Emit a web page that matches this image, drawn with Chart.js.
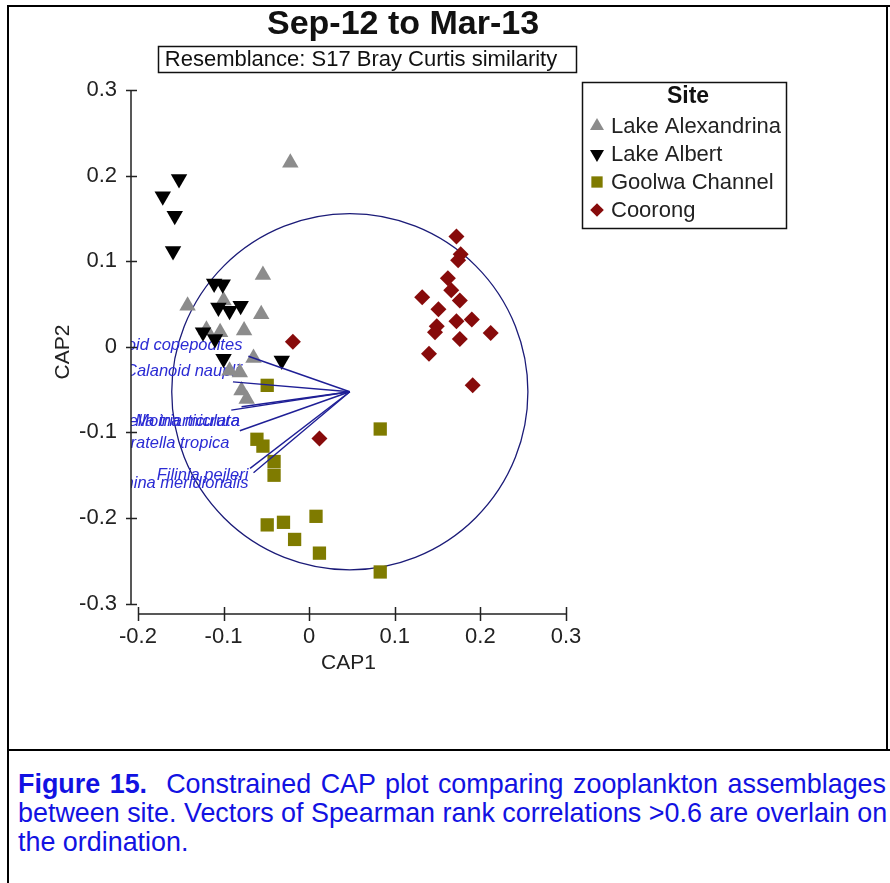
<!DOCTYPE html>
<html lang="en">
<head>
  <meta charset="UTF-8">
  <title>Sep-12 to Mar-13 CAP plot</title>
  <script src="https://cdn.jsdelivr.net/npm/chart.js"></script>
  <style>
    body { margin: 0; background: #fff; }
    #page { position: relative; width: 890px; height: 883px; overflow: hidden; font-family: "Liberation Sans", Arial, sans-serif; }
    #myChart { position: absolute; left: 0; top: 0; }
    .rule { position: absolute; background: #000; }
    #caption { position: absolute; left: 18px; top: 770px; width: 868px; font-size: 26.9px; line-height: 29px; color: #1212e2; }
    #caption div { white-space: nowrap; }
    #caption .full { text-align: justify; text-align-last: justify; }
  </style>
</head>

<body>
  <div id="page">
    <canvas id="myChart" width="890" height="750"></canvas>
    <div class="rule" style="left:7px;top:5px;width:883px;height:2px"></div>
    <div class="rule" style="left:7px;top:5px;width:2px;height:878px"></div>
    <div class="rule" style="left:886px;top:5px;width:2px;height:746px"></div>
    <div class="rule" style="left:7px;top:749px;width:883px;height:2px"></div>
    <div id="caption">
      <div class="full"><b>Figure 15.</b>&nbsp; Constrained CAP plot comparing zooplankton assemblages</div>
      <div class="full">between site. Vectors of Spearman rank correlations &gt;0.6 are overlain on</div>
      <div>the ordination.</div>
    </div>
  </div>

  <script>
    // Sites
    const siteNames = ['Lake Alexandrina', 'Lake Albert', 'Goolwa Channel', 'Coorong'];

    const alexandrinaCap1 = [-0.022, -0.054, -0.142, -0.100, -0.056, -0.120, -0.104, -0.076, -0.065, -0.081, -0.093, -0.079, -0.073];
    const alexandrinaCap2 = [0.215, 0.084, 0.048, 0.054, 0.038, 0.020, 0.017, 0.019, -0.013, -0.030, -0.028, -0.051, -0.061];

    const albertCap1 = [-0.152, -0.171, -0.157, -0.159, -0.111, -0.101, -0.106, -0.093, -0.080, -0.124, -0.110, -0.100, -0.032];
    const albertCap2 = [0.196, 0.176, 0.153, 0.112, 0.074, 0.073, 0.046, 0.042, 0.048, 0.017, 0.009, -0.014, -0.016];

    const goolwaCap1 = [-0.049, 0.083, -0.061, -0.054, -0.041, -0.041, -0.049, -0.030, 0.008, -0.017, 0.012, 0.083];
    const goolwaCap2 = [-0.045, -0.096, -0.108, -0.116, -0.134, -0.150, -0.208, -0.205, -0.198, -0.225, -0.241, -0.263];

    const coorongCap1 = [0.172, 0.177, 0.174, 0.162, 0.166, 0.176, 0.132, 0.151, 0.149, 0.147, 0.172, 0.190, 0.212, 0.176, 0.140, 0.191, -0.019, 0.012];
    const coorongCap2 = [0.129, 0.108, 0.101, 0.080, 0.066, 0.054, 0.058, 0.044, 0.024, 0.017, 0.030, 0.032, 0.016, 0.009, -0.008, -0.045, 0.006, -0.107];

    // Spearman vectors (origin = centre of correlation circle)
    const vectorNames = ['Calanoid copepodites', 'Calanoid nauplii', 'Boeckella triarticulata', 'Moina micrura', 'Keratella tropica', 'Filinia pejleri', 'Bosmina meridionalis'];
    const vectorCap1 = [-0.071, -0.089, -0.091, -0.079, -0.081, -0.069, -0.065];
    const vectorCap2 = [-0.011, -0.041, -0.074, -0.070, -0.098, -0.142, -0.147];
    const labelCap1 = [-0.078, -0.078, -0.081, -0.081, -0.093, -0.071, -0.071];
    const labelCap2 = [0.002, -0.029, -0.0875, -0.0875, -0.113, -0.150, -0.159];
    const vectorOrigin = [0.0475, -0.0525];
    const circleRadius = 0.208;

    // Axes
    const xTickVals = [-0.2, -0.1, 0, 0.1, 0.2, 0.3];
    const xTickLabels = ['-0.2', '-0.1', '0', '0.1', '0.2', '0.3'];
    const yTickVals = [-0.3, -0.2, -0.1, 0, 0.1, 0.2, 0.3];
    const yTickLabels = ['-0.3', '-0.2', '-0.1', '0', '0.1', '0.2', '0.3'];

    const FONT = '"Liberation Sans", Arial, sans-serif';
    Chart.defaults.font.family = FONT;

    const toPoints = (xs, ys) => xs.map((v, i) => ({ x: v, y: ys[i] }));

    const siteStyles = [
      { pointStyle: 'triangle', rotation: 0, radius: 9.5, color: '#8c8c8c', order: 4 },
      { pointStyle: 'triangle', rotation: 180, radius: 9.5, color: '#000000', order: 3 },
      { pointStyle: 'rect', rotation: 0, radius: 9.4, color: '#7f7b00', order: 2 },
      { pointStyle: 'rectRot', rotation: 0, radius: 8, color: '#870b0b', order: 1 },
    ];
    const siteData = [
      toPoints(alexandrinaCap1, alexandrinaCap2),
      toPoints(albertCap1, albertCap2),
      toPoints(goolwaCap1, goolwaCap2),
      toPoints(coorongCap1, coorongCap2),
    ];

    const datasets = siteNames.map((name, i) => ({
      label: name,
      data: siteData[i],
      pointStyle: siteStyles[i].pointStyle,
      rotation: siteStyles[i].rotation,
      pointRadius: siteStyles[i].radius,
      backgroundColor: siteStyles[i].color,
      borderColor: siteStyles[i].color,
      borderWidth: 0,
      order: siteStyles[i].order,
    }));

    vectorNames.forEach((name, i) => {
      datasets.push({
        label: name,
        data: [{ x: vectorOrigin[0], y: vectorOrigin[1] }, { x: vectorCap1[i], y: vectorCap2[i] }],
        showLine: true,
        borderColor: '#1f1f96',
        borderWidth: 1.4,
        pointRadius: 0,
        order: 0,
      });
    });

    // correlation circle, vector labels, PRIMER-style axes, title box and legend
    const capExtras = {
      id: 'capExtras',
      beforeDatasetsDraw(chart) {
        const { ctx, chartArea, scales: { x, y } } = chart;
        const cx = x.getPixelForValue(vectorOrigin[0]);
        const cy = y.getPixelForValue(vectorOrigin[1]);
        const rx = x.getPixelForValue(vectorOrigin[0] + circleRadius) - cx;
        const ry = cy - y.getPixelForValue(vectorOrigin[1] + circleRadius);
        ctx.save();
        ctx.strokeStyle = '#1b1b78';
        ctx.lineWidth = 1.3;
        ctx.beginPath();
        ctx.ellipse(cx, cy, rx, ry, 0, 0, Math.PI * 2);
        ctx.stroke();

        // labels sit under the points and are clipped at the axis
        ctx.beginPath();
        ctx.rect(chartArea.left, chartArea.top, chartArea.right - chartArea.left, chartArea.bottom - chartArea.top);
        ctx.clip();
        ctx.font = 'italic 16.5px ' + FONT;
        ctx.fillStyle = '#2b2bd4';
        ctx.textAlign = 'right';
        ctx.textBaseline = 'middle';
        vectorNames.forEach((name, i) => {
          ctx.fillText(name, x.getPixelForValue(labelCap1[i]), y.getPixelForValue(labelCap2[i]));
        });
        ctx.restore();
      },
      afterDraw(chart) {
        const { ctx, chartArea, scales: { x, y } } = chart;
        ctx.save();
        ctx.strokeStyle = '#222';
        ctx.lineWidth = 1.5;

        // y axis
        const ax = chartArea.left;
        ctx.beginPath();
        ctx.moveTo(ax, y.getPixelForValue(yTickVals[yTickVals.length - 1]));
        ctx.lineTo(ax, y.getPixelForValue(yTickVals[0]));
        yTickVals.forEach(v => {
          const py = Math.round(y.getPixelForValue(v)) + 0.5;
          ctx.moveTo(ax - 5, py);
          ctx.lineTo(ax + 6, py);
        });
        ctx.stroke();

        // x axis (offset below the y axis)
        const ay = chartArea.bottom;
        ctx.beginPath();
        ctx.moveTo(x.getPixelForValue(xTickVals[0]), ay);
        ctx.lineTo(x.getPixelForValue(xTickVals[xTickVals.length - 1]), ay);
        xTickVals.forEach(v => {
          const px = Math.round(x.getPixelForValue(v)) + 0.5;
          ctx.moveTo(px, ay - 7);
          ctx.lineTo(px, ay + 7);
        });
        ctx.stroke();

        // title
        ctx.fillStyle = '#111';
        ctx.textAlign = 'center';
        ctx.textBaseline = 'middle';
        ctx.font = 'bold 34px ' + FONT;
        ctx.fillText('Sep-12 to Mar-13', 403, 25);

        // resemblance box
        ctx.lineWidth = 1.5;
        ctx.strokeStyle = '#111';
        ctx.strokeRect(158.5, 46.5, 418, 26);
        ctx.font = '22px ' + FONT;
        ctx.fillText('Resemblance: S17 Bray Curtis similarity', 361, 60);

        // legend
        ctx.strokeRect(582.5, 82.5, 204, 146);
        ctx.font = 'bold 23px ' + FONT;
        ctx.fillText('Site', 688, 97);
        ctx.textAlign = 'left';
        ctx.font = '22px ' + FONT;
        const rowY = [126, 154, 182, 210];
        siteNames.forEach((name, i) => {
          const s = siteStyles[i];
          ctx.fillStyle = s.color;
          ctx.strokeStyle = s.color;
          Chart.helpers.drawPoint(ctx, { pointStyle: s.pointStyle, rotation: s.rotation, radius: s.radius * 0.85, borderWidth: 0 }, 597, rowY[i]);
          ctx.fillStyle = '#222';
          ctx.fillText(name, 611, rowY[i] + 1);
        });
        ctx.restore();
      }
    };

    const ctx = document.getElementById('myChart').getContext('2d');

    const myChart = new Chart(ctx, {
      type: 'scatter',
      data: { datasets: datasets },
      options: {
        responsive: false,
        animation: false,
        events: [],
        layout: { padding: { left: 0, right: 324, top: 90, bottom: 66 } },
        scales: {
          x: {
            type: 'linear',
            min: -0.2081,
            max: 0.3,
            grid: { display: false },
            border: { display: false },
            afterFit: (scale) => { scale.height = 70; },
            afterBuildTicks: (scale) => { scale.ticks = xTickVals.map(v => ({ value: v })); },
            ticks: {
              autoSkip: false,
              maxRotation: 0,
              padding: 2,
              color: '#222',
              font: { size: 22 },
              callback: (value, index) => xTickLabels[index],
            },
            title: { display: true, text: 'CAP1', color: '#222', font: { size: 21 }, padding: { top: 0, bottom: 8 } },
          },
          y: {
            type: 'linear',
            min: -0.3121,
            max: 0.3,
            grid: { display: false },
            border: { display: false },
            afterFit: (scale) => { scale.width = 131; },
            afterBuildTicks: (scale) => { scale.ticks = yTickVals.map(v => ({ value: v })); },
            ticks: {
              autoSkip: false,
              padding: 6,
              color: '#222',
              font: { size: 22 },
              callback: (value, index) => yTickLabels[index],
            },
            title: { display: true, text: 'CAP2', color: '#222', font: { size: 21 }, padding: { top: 51, bottom: 0 } },
          },
        },
        plugins: {
          legend: { display: false },
          tooltip: { enabled: false },
        },
      },
      plugins: [capExtras],
    });
  </script>
</body>

</html>
